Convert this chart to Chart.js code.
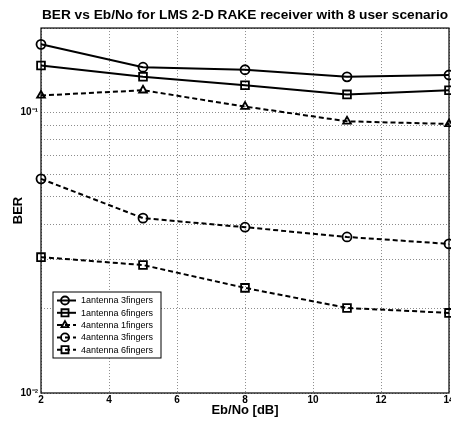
<!DOCTYPE html>
<html>
<head>
<meta charset="utf-8">
<script src="https://cdn.jsdelivr.net/npm/chart.js@4"></script>
<style>
  html, body { margin: 0; padding: 0; background: #fff; }
  #wrap { width: 451px; height: 426px; }
</style>
</head>
<body>
<div id="wrap"><canvas id="berChart" width="451" height="426"></canvas></div>
<script>
// Eb/No points (dB)
const ebno = [2, 5, 8, 11, 14];

// BER
const ber1ant3f = [0.175, 0.145, 0.142, 0.134, 0.136];
const ber1ant6f = [0.147, 0.134, 0.125, 0.116, 0.120];
const ber4ant1f = [0.115, 0.120, 0.105, 0.093, 0.091];
const ber4ant3f = [0.058, 0.042, 0.039, 0.036, 0.034];
const ber4ant6f = [0.0305, 0.0286, 0.0237, 0.0201, 0.0193];

const seriesNames = ['1antenna 3fingers', '1antenna 6fingers', '4antenna 1fingers', '4antenna 3fingers', '4antenna 6fingers'];

// y grid ticks (log decade grid) and the labels shown
const yTicks = [0.01, 0.02, 0.03, 0.04, 0.05, 0.06, 0.07, 0.08, 0.09, 0.1, 0.2];
const yTickLabels = { 0.01: '10\u207B\u00B2', 0.1: '10\u207B\u00B9' };

const toPoints = (ys) => ebno.map((x, i) => ({ x: x, y: ys[i] }));

const makeSet = (label, ys, style, dashed) => ({
  label: label,
  data: toPoints(ys),
  borderColor: '#000',
  borderWidth: 2,
  borderDash: dashed ? [5, 3] : [],
  pointStyle: style,
  pointRadius: style === 'rect' ? 5.5 : 4.5,
  pointBorderWidth: 1.8,
  pointBorderColor: '#000',
  pointBackgroundColor: 'rgba(0,0,0,0)',
  tension: 0,
  clip: 8
});

// legend box inside the plot plus the frame round the axes
const boxAndLegend = {
  id: 'boxAndLegend',
  afterDraw(chart) {
    const { ctx, chartArea: a } = chart;
    ctx.save();
    ctx.strokeStyle = '#000';
    ctx.lineWidth = 1.2;
    ctx.setLineDash([]);
    ctx.strokeRect(a.left, a.top, a.right - a.left, a.bottom - a.top);

    const lx = 53, ly = 292, lw = 108, lh = 66;
    ctx.fillStyle = '#fff';
    ctx.fillRect(lx, ly, lw, lh);
    ctx.lineWidth = 1;
    ctx.strokeRect(lx, ly, lw, lh);

    ctx.font = '9px "Liberation Sans", Arial, sans-serif';
    ctx.textBaseline = 'middle';
    chart.data.datasets.forEach((ds, i) => {
      const y = ly + 8.5 + i * 12.3;
      ctx.strokeStyle = '#000';
      ctx.lineWidth = 2;
      ctx.setLineDash(ds.borderDash);
      ctx.beginPath();
      ctx.moveTo(lx + 4, y);
      ctx.lineTo(lx + 23, y);
      ctx.stroke();
      ctx.setLineDash([]);
      ctx.lineWidth = 1.8;
      ctx.fillStyle = 'rgba(0,0,0,0)';
      Chart.helpers.drawPoint(ctx, { pointStyle: ds.pointStyle, radius: ds.pointRadius - 0.5, rotation: 0, borderWidth: 1.8 }, lx + 12, y);
      ctx.fillStyle = '#000';
      ctx.fillText(ds.label, lx + 28, y + 0.5);
    });
    ctx.restore();
  }
};

const gridDash = [1, 2];

new Chart(document.getElementById('berChart'), {
  type: 'line',
  data: {
    datasets: [
      makeSet(seriesNames[0], ber1ant3f, 'circle', false),
      makeSet(seriesNames[1], ber1ant6f, 'rect', false),
      makeSet(seriesNames[2], ber4ant1f, 'triangle', true),
      makeSet(seriesNames[3], ber4ant3f, 'circle', true),
      makeSet(seriesNames[4], ber4ant6f, 'rect', true)
    ]
  },
  options: {
    responsive: false,
    animation: false,
    layout: { autoPadding: false, padding: { left: 0, right: 2, top: 0, bottom: 0 } },
    plugins: {
      legend: { display: false },
      tooltip: { enabled: false },
      title: {
        display: true,
        text: 'BER vs Eb/No for LMS 2-D RAKE receiver with 8 user scenario',
        color: '#000',
        fullSize: false,
        font: { family: '"Liberation Sans", Arial, sans-serif', size: 13.7, weight: 'bold' },
        padding: { top: 7, bottom: 4.6 }
      }
    },
    scales: {
      x: {
        type: 'linear',
        min: 2,
        max: 14,
        ticks: {
          stepSize: 2,
          color: '#000',
          padding: 2,
          maxRotation: 0,
          font: { family: '"Liberation Sans", Arial, sans-serif', size: 10, weight: 'bold', lineHeight: 1 }
        },
        grid: { color: 'rgba(0,0,0,0.45)', lineWidth: 1, drawTicks: false, borderDash: gridDash },
        border: { display: false, dash: gridDash },
        title: {
          display: true,
          text: 'Eb/No [dB]',
          color: '#000',
          font: { family: '"Liberation Sans", Arial, sans-serif', size: 13, weight: 'bold' },
          padding: { top: 0, bottom: 8 }
        },
        afterFit(scale) {
          scale.height = 33;
          scale.paddingLeft = 0;
          scale.paddingRight = 0;
        }
      },
      y: {
        type: 'logarithmic',
        min: 0.01,
        max: 0.2,
        afterBuildTicks(scale) {
          scale.ticks = yTicks.map(v => ({ value: v }));
        },
        ticks: {
          autoSkip: false,
          color: '#000',
          padding: 3,
          font: { family: '"Liberation Sans", Arial, sans-serif', size: 10, weight: 'bold' },
          callback: (v) => yTickLabels[v] || ''
        },
        grid: { color: 'rgba(0,0,0,0.45)', lineWidth: 1, drawTicks: false, borderDash: gridDash },
        border: { display: false, dash: gridDash },
        title: {
          display: true,
          text: 'BER',
          color: '#000',
          font: { family: '"Liberation Sans", Arial, sans-serif', size: 13, weight: 'bold' },
          padding: { top: 11, bottom: 0 }
        },
        afterFit(scale) {
          scale.width = 41;
          scale.paddingTop = 0;
          scale.paddingBottom = 0;
        }
      }
    }
  },
  plugins: [boxAndLegend]
});
</script>
</body>
</html>
